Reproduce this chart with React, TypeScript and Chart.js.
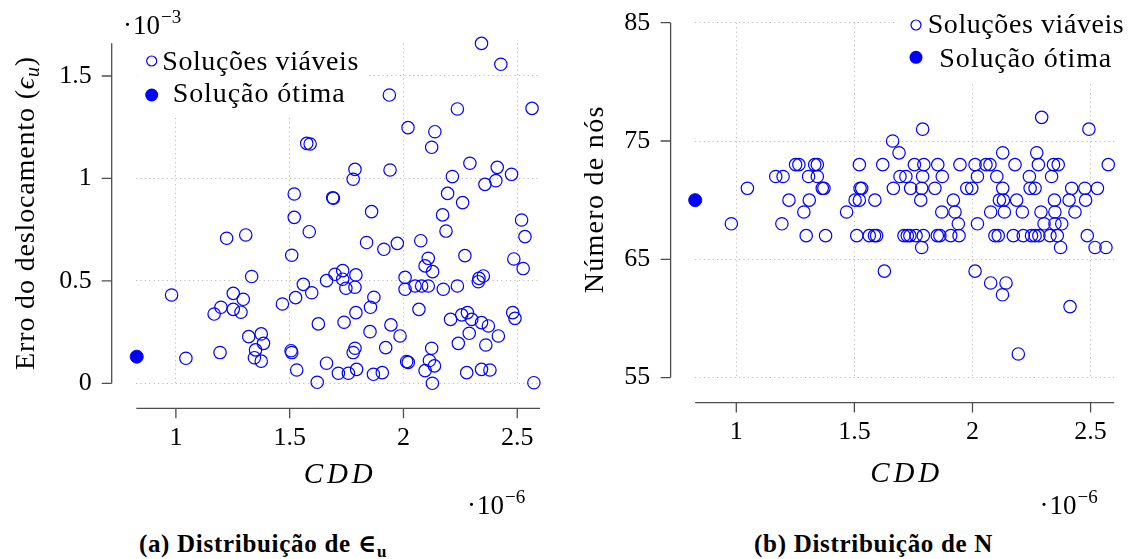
import React, { useEffect, useRef } from "react";
import { Chart, registerables } from "chart.js";

Chart.register(...registerables);

// ---------- Data (CDD in units of 1e-6) ----------
// (a) displacement error (units of 1e-3) vs CDD
const cddA = [
  0.981, 1.044, 1.194, 1.223, 1.307, 1.333, 1.252, 1.296, 1.198, 1.168, 1.252, 1.286, 1.32, 1.375, 1.385, 1.35,
  1.345, 1.375, 1.938, 2.02, 1.575, 1.59, 1.787, 1.779, 1.941, 1.52, 1.689, 1.692, 1.52, 1.86, 1.586, 1.838,
  1.914, 1.973, 1.509, 1.699, 1.733, 1.733, 1.791, 1.747, 1.787, 1.662, 1.56, 1.597, 1.526, 1.468, 2.007, 2.007,
  1.87, 1.855, 1.791, 1.626, 1.739, 1.853, 1.945, 1.985, 1.922, 1.787, 1.779, 1.506, 1.509, 1.531, 1.662, 1.714,
  1.758, 1.794, 1.868, 1.907, 1.621, 2.014, 2.343, 2.428, 2.565, 2.237, 2.138, 2.124, 2.292, 2.412, 2.406, 2.358,
  2.475, 2.215, 2.194, 2.26, 2.172, 2.187, 2.519, 2.534, 2.076, 2.109, 2.095, 2.128, 2.27, 2.485, 2.526, 2.351,
  2.332, 2.329, 2.051, 2.08, 2.109, 2.175, 2.237, 2.068, 2.207, 2.256, 2.281, 2.3, 2.343, 2.373, 2.48, 2.49,
  2.289, 2.241, 2.362, 2.417, 2.124, 2.021, 2.114, 2.136, 2.095, 2.127, 2.278, 2.343, 2.38, 2.573,
];
const errA = [
  0.431, 0.122, 0.15, 0.708, 0.724, 0.521, 0.439, 0.41, 0.371, 0.338, 0.361, 0.347, 0.228, 0.241, 0.195, 0.163,
  0.125, 0.108, 1.407, 1.248, 1.171, 1.168, 1.044, 0.996, 1.041, 0.924, 0.906, 0.903, 0.81, 0.838, 0.74, 0.687,
  0.654, 0.683, 0.625, 0.532, 0.55, 0.508, 0.529, 0.464, 0.469, 0.501, 0.483, 0.442, 0.418, 0.387, 0.517, 0.459,
  0.42, 0.371, 0.345, 0.29, 0.298, 0.252, 0.285, 0.231, 0.174, 0.171, 0.15, 0.159, 0.15, 0.065, 0.098, 0.049,
  0.049, 0.068, 0.044, 0.052, 0.005, 0.106, 1.659, 1.557, 1.342, 1.339, 1.228, 1.152, 1.074, 1.054, 0.989, 0.971,
  1.02, 1.009, 0.927, 0.882, 0.822, 0.743, 0.797, 0.716, 0.696, 0.61, 0.573, 0.545, 0.623, 0.607, 0.56, 0.524,
  0.512, 0.496, 0.475, 0.475, 0.475, 0.459, 0.475, 0.361, 0.312, 0.334, 0.345, 0.312, 0.296, 0.28, 0.345, 0.317,
  0.244, 0.195, 0.187, 0.231, 0.171, 0.102, 0.111, 0.085, 0.062, 0.0, 0.052, 0.068, 0.065, 0.003,
];
const cddOptA = [0.828];
const errOptA = [0.13];

// (b) number of nodes vs CDD
const cddB = [
  1.047, 0.979, 1.167, 1.198, 1.251, 1.265, 1.332, 1.343, 1.306, 1.343, 1.364, 1.371, 1.223, 1.309, 1.286, 1.193,
  1.296, 1.378, 1.789, 1.662, 1.689, 1.521, 1.62, 1.754, 1.794, 1.853, 1.947, 1.693, 1.718, 1.789, 1.872, 1.524,
  1.531, 1.665, 1.738, 1.785, 1.841, 1.976, 1.503, 1.521, 1.587, 1.781, 1.919, 1.467, 1.87, 1.926, 1.94, 1.51,
  1.563, 1.585, 1.594, 1.71, 1.724, 1.735, 1.761, 1.792, 1.851, 1.862, 1.908, 1.943, 1.785, 1.627, 2.293, 2.493,
  2.128, 2.272, 2.011, 2.057, 2.074, 2.18, 2.279, 2.343, 2.363, 2.575, 2.021, 2.103, 2.241, 2.335, 1.997, 2.128,
  2.244, 2.265, 2.42, 2.476, 2.529, 2.114, 2.131, 2.187, 2.347, 2.409, 2.479, 2.077, 2.135, 2.211, 2.29, 2.349,
  2.434, 2.021, 2.303, 2.349, 2.378, 2.095, 2.109, 2.173, 2.215, 2.25, 2.265, 2.281, 2.328, 2.359, 2.486, 2.373,
  2.519, 2.565, 2.011, 2.077, 2.142, 2.127, 2.413, 2.194,
];
const nodesB = [
  71, 68, 72, 72, 73, 73, 73, 73, 72, 72, 71, 71, 70, 70, 69, 68,
  67, 67, 76, 75, 74, 73, 73, 73, 73, 73, 73, 72, 72, 72, 72, 71,
  71, 71, 71, 71, 71, 71, 70, 70, 70, 70, 70, 69, 69, 69, 68, 67,
  67, 67, 67, 67, 67, 67, 67, 67, 67, 67, 67, 67, 66, 64, 77, 76,
  74, 74, 73, 73, 73, 73, 73, 73, 73, 73, 72, 72, 72, 72, 71, 71,
  71, 71, 71, 71, 71, 70, 70, 70, 70, 70, 70, 69, 69, 69, 69, 69,
  69, 68, 68, 68, 68, 67, 67, 67, 67, 67, 67, 67, 67, 67, 67, 66,
  66, 66, 64, 63, 63, 62, 61, 57,
];
const cddOptB = [0.826];
const nodesOptB = [70];

// ---------- Ticks / labels ----------
const xTicks = [1, 1.5, 2, 2.5];
const xTickLabels = ["1", "1.5", "2", "2.5"];
const errTicks = [0, 0.5, 1, 1.5];
const errTickLabels = ["0", "0.5", "1", "1.5"];
const nodeTicks = [55, 65, 75, 85];
const nodeTickLabels = ["55", "65", "75", "85"];
const legendLabels = ["Soluções viáveis", "Solução ótima"];
const xTitle = "CDD";
const xExponent = ["·", "10", "−6"];
const errExponent = ["·", "10", "−3"];
const errTitle = ["Erro do deslocamento (", "ϵ", "u", ")"];
const nodesTitle = "Número de nós";

// ---------- Style ----------
const BLUE = "#0000ff";
const AXIS = "#4d4d4d";
const GRID = "#bdbdbd";
const SERIF = "'Liberation Serif', 'DejaVu Serif', serif";
const W = 567;
const H = 520;

type Run = { text: string; font: string; dy?: number; gap?: number };

function drawRuns(ctx: CanvasRenderingContext2D, runs: Run[], x: number, y: number, target?: number) {
  let w = 0;
  let n = 0;
  for (const r of runs) {
    ctx.font = r.font;
    w += r.gap || 0;
    for (const ch of Array.from(r.text)) {
      w += ctx.measureText(ch).width;
      n++;
    }
  }
  const ls = target ? Math.max((target - w) / Math.max(n - 1, 1), 0) : 0;
  let cx = x;
  for (const r of runs) {
    ctx.font = r.font;
    cx += r.gap || 0;
    for (const ch of Array.from(r.text)) {
      ctx.fillText(ch, cx, y + (r.dy || 0));
      cx += ctx.measureText(ch).width + ls;
    }
  }
}

type Panel = {
  xs: number[];
  ys: number[];
  optX: number[];
  optY: number[];
  xMin: number;
  xMax: number;
  yMin: number;
  yMax: number;
  yTicks: number[];
  yTickLabels: string[];
  area: { left: number; top: number; right: number; bottom: number };
  yPad: number;
  yTitle: { runs: Run[]; cy: number; len: number; baseX: number };
  xTitleBase: number;
  xExp: { x: number; base: number };
  yExp?: { x: number; base: number };
  legend: {
    box: [number, number, number, number];
    markerX: number;
    rowY: [number, number];
    textX: [number, number];
    base: [number, number];
    widths: [number, number];
  };
};

const AXIS_GAP = 24.6;
const TICK_LEN = 10;

function makeDecor(p: Panel) {
  return {
    id: "decor",
    beforeDatasetsDraw(chart: any) {
      const ctx: CanvasRenderingContext2D = chart.ctx;
      const [x0, y0, x1, y1] = p.legend.box;
      ctx.save();
      ctx.fillStyle = "#ffffff";
      ctx.fillRect(x0, y0, x1 - x0, y1 - y0);
      ctx.restore();
    },
    afterDraw(chart: any) {
      const ctx: CanvasRenderingContext2D = chart.ctx;
      const { left, right, bottom } = chart.chartArea;
      const xs = chart.scales.x;
      const ys = chart.scales.y;
      ctx.save();
      // offset axes
      ctx.strokeStyle = AXIS;
      ctx.lineWidth = 1.3;
      ctx.beginPath();
      const ax = left - AXIS_GAP;
      ctx.moveTo(ax, ys.getPixelForValue(p.yMax));
      ctx.lineTo(ax, ys.getPixelForValue(p.yTicks[0]));
      for (const v of p.yTicks) {
        const y = ys.getPixelForValue(v);
        ctx.moveTo(ax - TICK_LEN, y);
        ctx.lineTo(ax, y);
      }
      const ay = bottom + 25;
      ctx.moveTo(left, ay);
      ctx.lineTo(right, ay);
      for (const v of xTicks) {
        const x = xs.getPixelForValue(v);
        ctx.moveTo(x, ay);
        ctx.lineTo(x, ay + TICK_LEN);
      }
      ctx.stroke();

      ctx.fillStyle = "#000";
      ctx.textBaseline = "alphabetic";
      ctx.textAlign = "left";

      // y title (rotated)
      ctx.save();
      ctx.translate(p.yTitle.baseX, p.yTitle.cy);
      ctx.rotate(-Math.PI / 2);
      drawRuns(ctx, p.yTitle.runs, -p.yTitle.len / 2, 0, p.yTitle.len);
      ctx.restore();

      // x title
      const xtw = 69;
      drawRuns(ctx, [{ text: xTitle, font: `italic 29px ${SERIF}` }], (left + right) / 2 - xtw / 2, p.xTitleBase, xtw);

      // exponents
      const expRuns = (e: string[]): Run[] => [
        { text: e[0], font: `27px ${SERIF}` },
        { text: e[1], font: `27px ${SERIF}`, gap: 1 },
        { text: e[2], font: `19px ${SERIF}`, dy: -11, gap: 1 },
      ];
      drawRuns(ctx, expRuns(xExponent), p.xExp.x, p.xExp.base);
      if (p.yExp) drawRuns(ctx, expRuns(errExponent), p.yExp.x, p.yExp.base);

      // legend
      const L = p.legend;
      ctx.strokeStyle = BLUE;
      ctx.lineWidth = 1.2;
      ctx.beginPath();
      ctx.arc(L.markerX, L.rowY[0], 5, 0, Math.PI * 2);
      ctx.stroke();
      ctx.fillStyle = BLUE;
      ctx.beginPath();
      ctx.arc(L.markerX, L.rowY[1], 6.5, 0, Math.PI * 2);
      ctx.fill();
      ctx.fillStyle = "#000";
      drawRuns(ctx, [{ text: legendLabels[0], font: `28px ${SERIF}` }], L.textX[0], L.base[0], L.widths[0]);
      drawRuns(ctx, [{ text: legendLabels[1], font: `28px ${SERIF}` }], L.textX[1], L.base[1], L.widths[1]);
      ctx.restore();
    },
  };
}

function ScatterPanel({ p }: { p: Panel }) {
  const ref = useRef<HTMLCanvasElement>(null);
  useEffect(() => {
    const canvas = ref.current;
    if (!canvas) return;
    const a = p.area;
    const tickFont = { family: SERIF, size: 26 };
    const chart = new Chart(canvas, {
      type: "scatter",
      data: {
        datasets: [
          {
            label: legendLabels[0],
            data: p.xs.map((x, i) => ({ x, y: p.ys[i] })),
            pointRadius: 6.2,
            pointBorderWidth: 1.2,
            pointBorderColor: BLUE,
            pointBackgroundColor: "rgba(0,0,0,0)",
            borderColor: BLUE,
            backgroundColor: "rgba(0,0,0,0)",
            showLine: false,
            clip: false as any,
          },
          {
            label: legendLabels[1],
            data: p.optX.map((x, i) => ({ x, y: p.optY[i] })),
            pointRadius: 6.5,
            pointBorderWidth: 1,
            pointBorderColor: BLUE,
            pointBackgroundColor: BLUE,
            borderColor: BLUE,
            backgroundColor: BLUE,
            showLine: false,
            clip: false as any,
          },
        ],
      },
      options: {
        responsive: false,
        animation: false,
        events: [],
        devicePixelRatio: 1,
        layout: { padding: { left: 0, top: a.top, right: W - a.right, bottom: 0 } },
        plugins: { legend: { display: false }, tooltip: { enabled: false } },
        scales: {
          x: {
            type: "linear",
            min: p.xMin,
            max: p.xMax,
            afterBuildTicks: (s: any) => {
              s.ticks = xTicks.map((v) => ({ value: v }));
            },
            afterFit: (s: any) => {
              s.height = H - a.bottom;
            },
            grid: {
              color: GRID,
              lineWidth: 1,
              drawTicks: true,
              tickLength: 39,
              tickColor: "rgba(0,0,0,0)",
            },
            border: { display: false, dash: [1.2, 3.2] },
            ticks: {
              autoSkip: false,
              maxRotation: 0,
              padding: 0,
              color: "#000",
              font: tickFont,
              callback: (_v: any, i: number) => xTickLabels[i],
            },
          },
          y: {
            type: "linear",
            min: p.yMin,
            max: p.yMax,
            afterBuildTicks: (s: any) => {
              s.ticks = p.yTicks.map((v) => ({ value: v }));
            },
            afterFit: (s: any) => {
              s.width = a.left;
            },
            grid: {
              color: GRID,
              lineWidth: 1,
              drawTicks: true,
              tickLength: p.yPad,
              tickColor: "rgba(0,0,0,0)",
            },
            border: { display: false, dash: [1.2, 3.2] },
            ticks: {
              autoSkip: false,
              padding: 0,
              color: "#000",
              font: tickFont,
              callback: (_v: any, i: number) => p.yTickLabels[i],
            },
          },
        },
      },
      plugins: [makeDecor(p)],
    } as any);
    return () => chart.destroy();
  }, [p]);
  return <canvas ref={ref} width={W} height={H} style={{ display: "block", width: W, height: H }} />;
}

const panelA: Panel = {
  xs: cddA,
  ys: errA,
  optX: cddOptA,
  optY: errOptA,
  xMin: 0.826,
  xMax: 2.6,
  yMin: 0,
  yMax: 1.66,
  yTicks: errTicks,
  yTickLabels: errTickLabels,
  area: { left: 136.3, top: 43.2, right: 540, bottom: 383.3 },
  yPad: 44.6,
  yTitle: {
    runs: [
      { text: errTitle[0], font: `28px ${SERIF}` },
      { text: errTitle[1], font: `italic 28px ${SERIF}` },
      { text: errTitle[2], font: `italic 20px ${SERIF}`, dy: 5 },
      { text: errTitle[3], font: `28px ${SERIF}` },
    ],
    cy: 213.4,
    len: 313,
    baseX: 33.5,
  },
  xTitleBase: 483.3,
  xExp: { x: 467, base: 514 },
  yExp: { x: 123, base: 33.5 },
  legend: {
    box: [136.3, 43.2, 366, 116],
    markerX: 151.7,
    rowY: [61, 95],
    textX: [162.3, 172.7],
    base: [70, 101.7],
    widths: [196, 172],
  },
};

const panelB: Panel = {
  xs: cddB,
  ys: nodesB,
  optX: cddOptB,
  optY: nodesOptB,
  xMin: 0.826,
  xMax: 2.6,
  yMin: 55,
  yMax: 85,
  yTicks: nodeTicks,
  yTickLabels: nodeTickLabels,
  area: { left: 128.2, top: 22.7, right: 547.2, bottom: 377.6 },
  yPad: 45,
  yTitle: {
    runs: [{ text: nodesTitle, font: `28px ${SERIF}` }],
    cy: 200,
    len: 186.7,
    baseX: 35.7,
  },
  xTitleBase: 481.7,
  xExp: { x: 472.5, base: 514 },
  legend: {
    box: [330, 0, 567, 81],
    markerX: 349,
    rowY: [25, 57.3],
    textX: [360.7, 372.3],
    base: [33.3, 66.7],
    widths: [196, 172],
  },
};

const captionStyle: React.CSSProperties = {
  position: "absolute",
  top: 529,
  width: 400,
  textAlign: "center",
  fontFamily: SERIF,
  fontWeight: "bold",
  fontSize: 25,
  lineHeight: "30px",
  letterSpacing: "0.7px",
  color: "#000",
  whiteSpace: "nowrap",
};

export default function App() {
  return (
    <div
      style={{
        position: "fixed",
        left: 0,
        top: 0,
        width: 1134,
        height: 559,
        background: "#fff",
        overflow: "hidden",
      }}
    >
      <div style={{ position: "absolute", left: 0, top: 0 }}>
        <ScatterPanel p={panelA} />
      </div>
      <div style={{ position: "absolute", left: 567, top: 0 }}>
        <ScatterPanel p={panelB} />
      </div>
      <div style={{ ...captionStyle, left: 263 - 200 }}>
        (a) Distribuição de ∈
        <span style={{ fontSize: 17, position: "relative", top: 5 }}>u</span>
      </div>
      <div style={{ ...captionStyle, left: 873.6 - 200 }}>(b) Distribuição de N</div>
    </div>
  );
}
